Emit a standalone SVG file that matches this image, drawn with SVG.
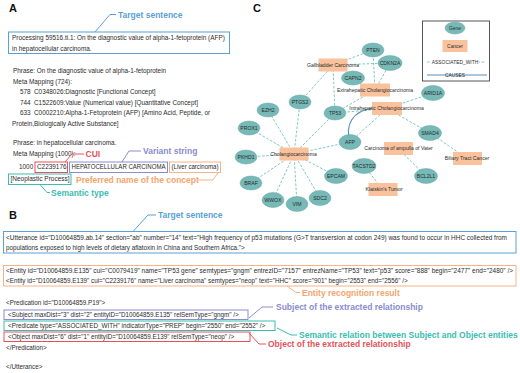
<svg xmlns="http://www.w3.org/2000/svg" width="520" height="373" viewBox="0 0 520 373">
<style>
text{font-family:"Liberation Sans",Arial,Helvetica,sans-serif}
.t{font-size:6.4px;fill:#2b2b2b}
.tb{font-size:6.3px;fill:#2b2b2b}
.lab{font-size:8.5px;font-weight:bold}
.pn{font-size:11px;font-weight:bold;fill:#111}
.n{font-size:5.1px;fill:#2a2a2a;text-anchor:middle}
.lg{font-size:4.9px;fill:#2a2a2a;text-anchor:middle}
.blue{fill:#5a9fd6}.red{fill:#e5535a}.pur{fill:#8a8cd0}.org{fill:#f4a46c}.teal{fill:#3cbdb1}
.sblue{stroke:#5a9fd6}.sred{stroke:#e5535a}.spur{stroke:#8a8cd0}.sorg{stroke:#f4b487}.steal{stroke:#3cbdb1}
.bx{fill:none;stroke-width:1}
.cl{fill:none;stroke-width:1}
.gene{fill:#77b9b7;stroke:#62a7a5;stroke-width:0.5}
.cancer{fill:#f9c29d}
.e{stroke:#5dbcae;stroke-width:0.8;stroke-dasharray:2.6 1.6;fill:none}
.c{stroke:#5b90bb;stroke-width:1.2;fill:none}
</style>

<!-- Panel A -->
<g id="panelA">
<text class="pn" x="9" y="11.5">A</text>
<polyline class="cl sblue" points="95,32 110,14.5 116,14.5"/>
<text class="lab blue" x="118" y="17.5">Target sentence</text>
<rect class="bx sblue" x="8.5" y="32" width="221" height="21.5"/>
<text class="t" x="12" y="39.5">Processing 59516.ti.1: On the diagnostic value of alpha-1-fetoprotein (AFP)</text>
<text class="t" x="12" y="50.8">in hepatocellular carcinoma.</text>
<text class="t" x="13" y="73.3">Phrase: On the diagnostic value of alpha-1-fetoprotein</text>
<text class="t" x="13" y="83.6">Meta Mapping (724):</text>
<text class="t" x="20" y="94.2">578</text><text class="t" x="34" y="94.2">C0348026:Diagnostic [Functional Concept]</text>
<text class="t" x="20" y="104.6">744</text><text class="t" x="34" y="104.6">C1522609:Value (Numerical value) [Quantitative Concept]</text>
<text class="t" x="20" y="115.1">633</text><text class="t" x="34" y="115.1">C0002210:Alpha-1-Fetoprotein (AFP) [Amino Acid, Peptide, or</text>
<text class="t" x="12" y="125.6">Protein,Biologically Active Substance]</text>
<text class="t" x="13" y="144.8">Phrase: in hepatocellular carcinoma.</text>
<text class="t" x="13" y="156.3">Meta Mapping (1000):</text>
<text class="t" x="19" y="168.8">1000</text>
<rect class="bx sred" x="35" y="162" width="32.5" height="10.5"/>
<text class="t" x="37" y="169.3">C2239176</text>
<rect class="bx spur" x="69.5" y="162" width="98" height="10.5"/>
<text class="t" x="71.5" y="169.3" textLength="94" lengthAdjust="spacingAndGlyphs">HEPATOCELLULAR CARCINOMA</text>
<rect class="bx sorg" x="169.5" y="162" width="51" height="10.5"/>
<text class="t" x="171.5" y="169.3" textLength="47" lengthAdjust="spacingAndGlyphs">(Liver carcinoma)</text>
<rect class="bx steal" x="8.5" y="174" width="62.5" height="10.5"/>
<text class="t" x="10.5" y="181.3" textLength="59" lengthAdjust="spacingAndGlyphs">[Neoplastic Process]</text>
<polyline class="cl sred" points="65,162 72,154 84,154"/>
<text class="lab red" x="85.5" y="157">CUI</text>
<polyline class="cl spur" points="122,162 129,151 141,151"/>
<text class="lab pur" x="143" y="154">Variant string</text>
<polyline class="cl sorg" points="218,172.5 213,180 198,180"/>
<text class="lab org" x="76" y="183">Preferred name of the concept</text>
<polyline class="cl steal" points="40,184.5 47,192.5 50,192.5"/>
<text class="lab teal" x="51" y="195.5">Semantic type</text>
</g>

<!-- Panel B -->
<g id="panelB">
<text class="pn" x="9" y="219">B</text>
<polyline class="cl sblue" points="133,231.5 148,215 156,215"/>
<text class="lab blue" x="158" y="218">Target sentence</text>
<rect class="bx sblue" x="3.5" y="231.5" width="512.5" height="21.5"/>
<text class="tb" x="6" y="239.5" textLength="501" lengthAdjust="spacingAndGlyphs">&lt;Utterance id="D10064859.ab.14" section="ab" number="14" text="High frequency of p53 mutations (G&gt;T transversion at codon 249) was found to occur in HHC collected from</text>
<text class="tb" x="6" y="249.8">populations exposed to high levels of dietary aflatoxin in China and Southern Africa."&gt;</text>
<rect class="bx sorg" x="3.5" y="265.5" width="512.5" height="20.5"/>
<text class="tb" x="6" y="273.3" textLength="507" lengthAdjust="spacingAndGlyphs">&lt;Entity id="D10064859.E135" cui="C0079419" name="TP53 gene" semtypes="gngm" entrezID="7157" entrezName="TP53" text="p53" score="888" begin="2477" end="2480" /&gt;</text>
<text class="tb" x="6" y="283.3">&lt;Entity id="D10064859.E139" cui="C2239176" name="Liver carcinoma" semtypes="neop" text="HHC" score="901" begin="2553" end="2556" /&gt;</text>
<polyline class="cl sorg" points="287,286 296,292.5 300,292.5"/>
<text class="lab org" x="302" y="295.5">Entity recognition result</text>
<text class="tb" x="6" y="305">&lt;Predication id="D10064859.P19"&gt;</text>
<rect class="bx spur" x="4" y="310" width="244" height="9.5"/>
<text class="tb" x="8" y="317">&lt;Subject maxDist="3" dist="2" entityID="D10064859.E135" relSemType="gngm" /&gt;</text>
<rect class="bx steal" x="4" y="321" width="271" height="9.5"/>
<text class="tb" x="8" y="328">&lt;Predicate type="ASSOCIATED_WITH" indicatorType="PREP" begin="2550" end="2552" /&gt;</text>
<rect class="bx sred" x="4" y="332" width="246" height="9.5"/>
<text class="tb" x="8" y="339">&lt;Object maxDist="6" dist="1" entityID="D10064859.E139" relSemType="neop" /&gt;</text>
<text class="tb" x="6" y="350">&lt;/Predication&gt;</text>
<text class="tb" x="6" y="368.5">&lt;/Utterance&gt;</text>
<polyline class="cl spur" points="249,318 262,307 273,307"/>
<text class="lab pur" x="276" y="310">Subject of the extracted relationship</text>
<polyline class="cl steal" points="277,328 291,335 297,335"/>
<text class="lab teal" x="299" y="338">Semantic relation between Subject and Object entities</text>
<polyline class="cl sred" points="249,333 259,344 266,344"/>
<text class="lab red" x="268" y="347">Object of the extracted relationship</text>
</g>

<!-- Panel C -->
<text class="pn" x="253" y="11.5">C</text>
<g id="connectors">
<line class="e" x1="294" y1="154" x2="268" y2="110"/>
<line class="e" x1="294" y1="154" x2="300" y2="102"/>
<line class="e" x1="294" y1="154" x2="335" y2="113"/>
<line class="e" x1="294" y1="154" x2="350" y2="142"/>
<line class="e" x1="294" y1="154" x2="249" y2="128"/>
<line class="e" x1="294" y1="154" x2="246" y2="157"/>
<line class="e" x1="294" y1="154" x2="251" y2="183"/>
<line class="e" x1="294" y1="154" x2="273" y2="200"/>
<line class="e" x1="294" y1="154" x2="297" y2="204"/>
<line class="e" x1="294" y1="154" x2="320" y2="198"/>
<line class="e" x1="294" y1="154" x2="336" y2="176"/>
<line class="e" x1="333" y1="65" x2="300" y2="102"/>
<line class="e" x1="333" y1="65" x2="335" y2="113"/>
<line class="e" x1="333" y1="65" x2="373" y2="50"/>
<line class="e" x1="333" y1="65" x2="390" y2="63"/>
<line class="e" x1="373" y1="50" x2="375" y2="90"/>
<line class="e" x1="390" y1="63" x2="375" y2="90"/>
<line class="e" x1="335" y1="113" x2="375" y2="90"/>
<line class="e" x1="335" y1="113" x2="387" y2="108.5"/>
<line class="e" x1="350" y1="142" x2="387" y2="108.5"/>
<line class="e" x1="433" y1="93" x2="387" y2="108.5"/>
<line class="e" x1="430" y1="133" x2="387" y2="108.5"/>
<line class="e" x1="430" y1="133" x2="467" y2="158.5"/>
<line class="e" x1="398" y1="148.5" x2="426" y2="176"/>
<line class="e" x1="364" y1="166" x2="383" y2="189.5"/>
<path class="c" d="M350,142 C345,125 352,111 373,108"/>
</g>

<g id="n-gall"><rect class="cancer" x="318.5" y="58.5" width="29" height="13"/><text class="n" x="333" y="66.8">Gallbladder Carcinoma</text></g>
<g id="n-extra"><rect class="cancer" x="360" y="83.5" width="30" height="13"/><text class="n" x="375" y="91.8">Extrahepatic Cholangiocarcinoma</text></g>
<g id="n-intra"><rect class="cancer" x="372" y="102" width="30" height="13"/><text class="n" x="386.5" y="110.3">Intrahepatic Cholangiocarcinoma</text></g>
<g id="n-chol"><rect class="cancer" x="279.5" y="147.5" width="29" height="13"/><text class="n" x="293.5" y="155.8">Cholangiocarcinoma</text></g>
<g id="n-ampulla"><rect class="cancer" x="384" y="142" width="29" height="13"/><text class="n" x="398.5" y="150.3">Carcinoma of ampulla of Vater</text></g>
<g id="n-biliary"><rect class="cancer" x="453" y="152" width="29" height="13"/><text class="n" x="467" y="160.3">Biliary Tract Cancer</text></g>
<g id="n-klatskin"><rect class="cancer" x="368.5" y="183" width="29" height="13"/><text class="n" x="384" y="191.3">Klatskin's Tumor</text></g>

<g id="n-pten"><ellipse class="gene" cx="373" cy="50" rx="11" ry="7"/><text class="n" x="373" y="51.8">PTEN</text></g>
<g id="n-cdkn2a"><ellipse class="gene" cx="390" cy="63" rx="12" ry="7.5"/><text class="n" x="390" y="64.8">CDKN2A</text></g>
<g id="n-capn2"><ellipse class="gene" cx="353" cy="78" rx="11.5" ry="7"/><text class="n" x="353" y="79.8">CAPN2</text></g>
<g id="n-arid1a"><ellipse class="gene" cx="433" cy="93" rx="11.5" ry="7.5"/><text class="n" x="433" y="94.8">ARID1A</text></g>
<g id="n-ezh2"><ellipse class="gene" cx="268" cy="110" rx="11" ry="7"/><text class="n" x="268" y="111.8">EZH2</text></g>
<g id="n-ptgs2"><ellipse class="gene" cx="300" cy="102" rx="11" ry="7"/><text class="n" x="300" y="103.8">PTGS2</text></g>
<g id="n-tp53"><ellipse class="gene" cx="335" cy="113" rx="11" ry="7"/><text class="n" x="335" y="114.8">TP53</text></g>
<g id="n-prox1"><ellipse class="gene" cx="249" cy="128" rx="11" ry="7"/><text class="n" x="249" y="129.8">PROX1</text></g>
<g id="n-afp"><ellipse class="gene" cx="350" cy="142" rx="11" ry="7.5"/><text class="n" x="350" y="143.8">AFP</text></g>
<g id="n-smad4"><ellipse class="gene" cx="430" cy="133" rx="11.5" ry="7.5"/><text class="n" x="430" y="134.8">SMAD4</text></g>
<g id="n-pkhd1"><ellipse class="gene" cx="246" cy="157" rx="11" ry="7"/><text class="n" x="246" y="158.8">PKHD1</text></g>
<g id="n-tacstd2"><ellipse class="gene" cx="364" cy="166" rx="12" ry="7.5"/><text class="n" x="364" y="167.8">TACSTD2</text></g>
<g id="n-epcam"><ellipse class="gene" cx="336" cy="176" rx="11.5" ry="7.5"/><text class="n" x="336" y="177.8">EPCAM</text></g>
<g id="n-bcl2l1"><ellipse class="gene" cx="426" cy="176" rx="11.5" ry="7.5"/><text class="n" x="426" y="177.8">BCL2L1</text></g>
<g id="n-braf"><ellipse class="gene" cx="251" cy="183" rx="11" ry="7"/><text class="n" x="251" y="184.8">BRAF</text></g>
<g id="n-wwox"><ellipse class="gene" cx="273" cy="200" rx="11" ry="7.5"/><text class="n" x="273" y="201.8">WWOX</text></g>
<g id="n-vim"><ellipse class="gene" cx="297" cy="204" rx="11" ry="7.5"/><text class="n" x="297" y="205.8">VIM</text></g>
<g id="n-sdc2"><ellipse class="gene" cx="320" cy="198" rx="11" ry="7.5"/><text class="n" x="320" y="199.8">SDC2</text></g>

<g id="legend">
<rect x="422.5" y="21" width="67" height="60" fill="#fff" stroke="#444" stroke-width="0.9"/>
<ellipse class="gene" cx="455" cy="28" rx="10" ry="6"/><text class="lg" x="455" y="29.7">Gene</text>
<rect class="cancer" x="442.5" y="40" width="25" height="12"/><text class="lg" x="455" y="47.7">Cancer</text>
<line class="e" x1="427" y1="62" x2="485" y2="62"/>
<rect x="431" y="59" width="48" height="6" fill="#fff"/>
<text class="lg" x="455" y="63.7">ASSOCIATED_WITH</text>
<line class="c" x1="427" y1="75" x2="487" y2="75"/>
<text class="lg" x="455" y="76.7">CAUSES</text>
</g>
</svg>
